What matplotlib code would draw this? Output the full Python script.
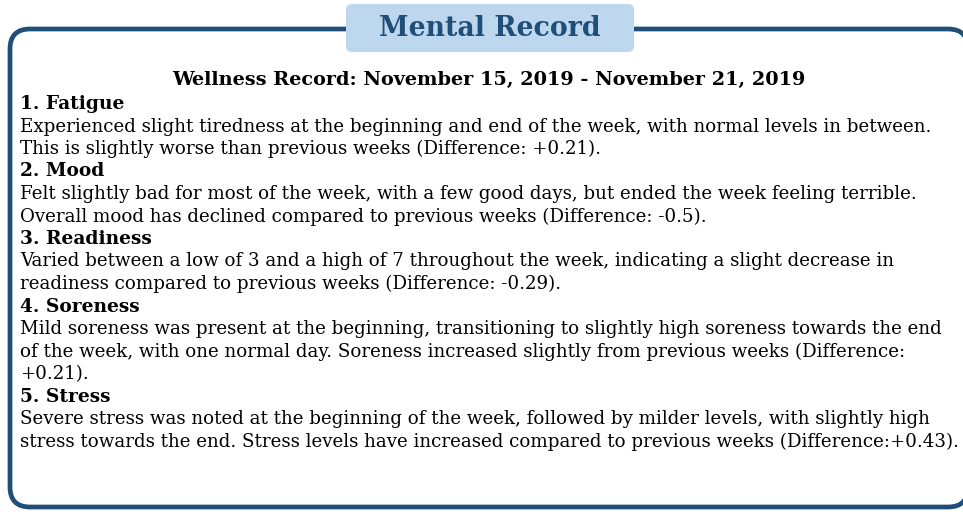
import matplotlib
matplotlib.use("Agg")
import matplotlib.pyplot as plt
from matplotlib.patches import FancyBboxPatch

# panel text
title = "Mental Record"
subtitle = "Wellness Record: November 15, 2019 - November 21, 2019"
headings = ["1. Fatigue", "2. Mood", "3. Readiness", "4. Soreness", "5. Stress"]
bodies = [
    ["Experienced slight tiredness at the beginning and end of the week, with normal levels in between.",
     "This is slightly worse than previous weeks (Difference: +0.21)."],
    ["Felt slightly bad for most of the week, with a few good days, but ended the week feeling terrible.",
     "Overall mood has declined compared to previous weeks (Difference: -0.5)."],
    ["Varied between a low of 3 and a high of 7 throughout the week, indicating a slight decrease in",
     "readiness compared to previous weeks (Difference: -0.29)."],
    ["Mild soreness was present at the beginning, transitioning to slightly high soreness towards the end",
     "of the week, with one normal day. Soreness increased slightly from previous weeks (Difference:",
     "+0.21)."],
    ["Severe stress was noted at the beginning of the week, followed by milder levels, with slightly high",
     "stress towards the end. Stress levels have increased compared to previous weeks (Difference:+0.43)."],
]

dark = "#1f4e79"
light = "#bdd7ee"
font = "DejaVu Serif"

fig = plt.figure(figsize=(9.63, 5.12), dpi=100)
ax = fig.add_axes([0, 0, 1, 1])
ax.set_xlim(0, 963)
ax.set_ylim(512, 0)
ax.axis("off")

# outer frame
frame = FancyBboxPatch((10, 29), 958, 478, boxstyle="round,pad=0,rounding_size=20",
                       fc="white", ec=dark, lw=3.4, zorder=1)
ax.add_patch(frame)

# title tab
tab = FancyBboxPatch((346, 4), 288, 48, boxstyle="round,pad=0,rounding_size=6",
                     fc=light, ec="none", zorder=2)
ax.add_patch(tab)
ax.text(490, 29, title, ha="center", va="center", fontsize=19.3, fontweight="bold",
        color=dark, family=font, zorder=3)

ax.text(489, 80, subtitle, ha="center", va="center", fontsize=13.85, fontweight="bold",
        color="black", family=font)

y = 104
for head, lines in zip(headings, bodies):
    ax.text(20, y, head, ha="left", va="center", fontsize=13.4, fontweight="bold",
            color="black", family=font)
    y += 22.5
    for line in lines:
        ax.text(20, y, line, ha="left", va="center", fontsize=13.15, color="black", family=font)
        y += 22.5

fig.savefig("out.png", dpi=100)
